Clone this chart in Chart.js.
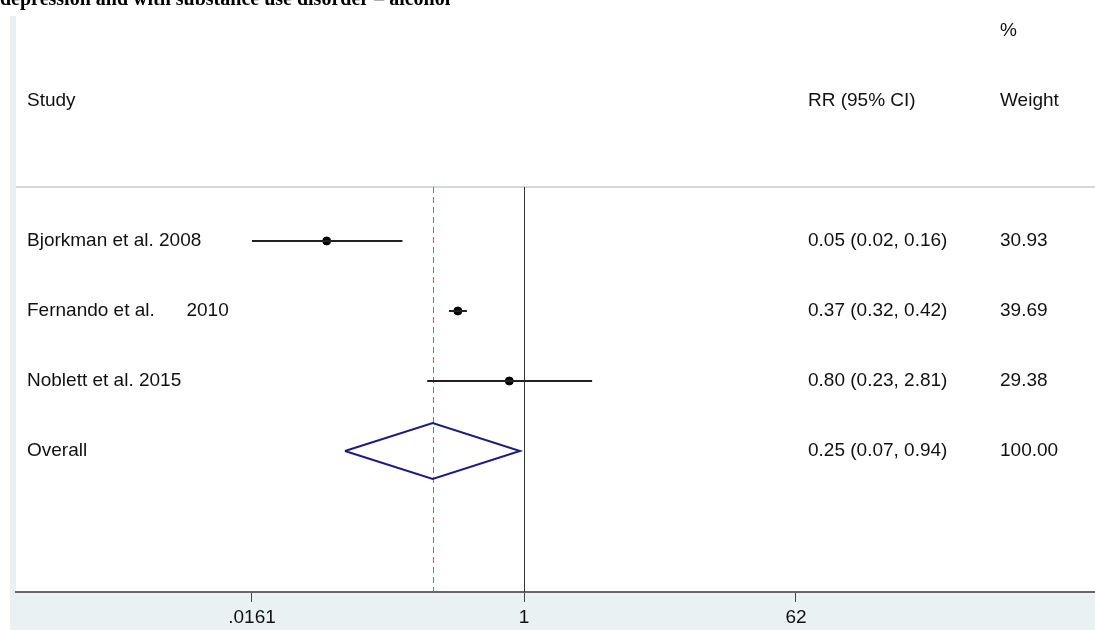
<!DOCTYPE html>
<html>
<head>
<meta charset="utf-8">
<script src="https://cdn.jsdelivr.net/npm/chart.js@4/dist/chart.umd.min.js"></script>
<style>
  html, body { margin: 0; padding: 0; background: #fff; }
  #forest { display: block; }
</style>
</head>
<body>
<canvas id="forest" width="1095" height="630"></canvas>
<script>
// studies, top to bottom
const studies = ['Bjorkman et al. 2008', 'Fernando et al.      2010', 'Noblett et al. 2015']
const rr = [0.05, 0.366, 0.80]
const lower = [0.0161, 0.32, 0.23]
const upper = [0.158, 0.42, 2.81]
const weights = ['30.93', '39.69', '29.38']

// pooled estimate
const overallLabel = 'Overall'
const overallRR = 0.25
const overallLower = 0.066
const overallUpper = 0.94
const overallWeight = '100.00'

// x axis
const tickValues = [0.0161, 1, 62]
const tickLabels = ['.0161', '1', '62']
const xMin = 0.000448
const xMax = 5800

const title = 'depression and with substance use disorder \u2013 alcohol'
const font = '"Liberation Sans", Arial, sans-serif'
const textSize = 19
const bandColor = '#e9f1f3'

const fmt = v => v.toFixed(2)
const ciText = (e, l, u) => fmt(e) + ' (' + fmt(l) + ', ' + fmt(u) + ')'

const datasets = []
studies.forEach((s, i) => {
  datasets.push({
    data: [{x: lower[i], y: i}, {x: upper[i], y: i}],
    showLine: true,
    borderColor: '#222',
    borderWidth: 2,
    pointRadius: 0
  })
})
datasets.push({
  data: rr.map((v, i) => ({x: v, y: i})),
  showLine: false,
  pointRadius: 4,
  pointBackgroundColor: '#000',
  pointBorderColor: '#000'
})
const oy = studies.length
datasets.push({
  data: [
    {x: overallLower, y: oy},
    {x: overallRR, y: oy - 0.4},
    {x: overallUpper, y: oy},
    {x: overallRR, y: oy + 0.4},
    {x: overallLower, y: oy}
  ],
  showLine: true,
  borderColor: '#1c1c80',
  borderWidth: 2,
  pointRadius: 0,
  fill: false
})

const decor = {
  id: 'decor',
  beforeDraw(chart) {
    const {ctx, chartArea: a, width, height} = chart
    ctx.save()
    ctx.fillStyle = '#fff'
    ctx.fillRect(0, 0, width, height)
    ctx.fillStyle = bandColor
    ctx.fillRect(10, 16, a.left - 10, a.bottom - 16)
    ctx.fillRect(10, a.bottom, width - 10, height - a.bottom)
    // title, cut off at the top edge
    ctx.fillStyle = '#000'
    ctx.font = 'bold 20px "Liberation Serif", "Times New Roman", serif'
    ctx.textBaseline = 'alphabetic'
    ctx.fillText(title, 0, 5)
    ctx.restore()
  },
  beforeDatasetsDraw(chart) {
    const {ctx, chartArea: a, scales: {x}} = chart
    ctx.save()
    // header rule
    ctx.strokeStyle = '#d8d8d8'
    ctx.lineWidth = 2
    ctx.beginPath()
    ctx.moveTo(a.left, a.top)
    ctx.lineTo(a.right, a.top)
    ctx.stroke()
    // line of no effect
    const x1 = Math.round(x.getPixelForValue(1)) + 0.5
    ctx.strokeStyle = '#333'
    ctx.lineWidth = 1
    ctx.beginPath()
    ctx.moveTo(x1, a.top)
    ctx.lineTo(x1, a.bottom)
    ctx.stroke()
    // pooled estimate
    const xo = Math.round(x.getPixelForValue(overallRR)) + 0.5
    ctx.strokeStyle = '#c25a6c'
    ctx.setLineDash([6, 4])
    ctx.beginPath()
    ctx.moveTo(xo, a.top)
    ctx.lineTo(xo, a.bottom)
    ctx.stroke()
    ctx.restore()
  },
  afterDraw(chart) {
    const {ctx, scales: {y}} = chart
    ctx.save()
    ctx.fillStyle = '#111'
    ctx.font = textSize + 'px ' + font
    ctx.textBaseline = 'middle'
    ctx.fillText('%', 1000, 31)
    ctx.fillText('Study', 27, 101)
    ctx.fillText('RR (95% CI)', 808, 101)
    ctx.fillText('Weight', 1000, 101)
    studies.forEach((s, i) => {
      const py = y.getPixelForValue(i)
      ctx.fillText(s, 27, py)
      ctx.fillText(ciText(rr[i], lower[i], upper[i]), 808, py)
      ctx.fillText(weights[i], 1000, py)
    })
    const py = y.getPixelForValue(oy)
    ctx.fillText(overallLabel, 27, py)
    ctx.fillText(ciText(overallRR, overallLower, overallUpper), 808, py)
    ctx.fillText(overallWeight, 1000, py)
    ctx.restore()
  }
}

new Chart(document.getElementById('forest'), {
  type: 'scatter',
  data: { datasets },
  options: {
    responsive: false,
    animation: false,
    layout: { autoPadding: false, padding: { left: 16, right: 0, top: 187, bottom: 0 } },
    plugins: { legend: { display: false }, tooltip: { enabled: false } },
    scales: {
      x: {
        type: 'logarithmic',
        min: xMin,
        max: xMax,
        afterBuildTicks: scale => { scale.ticks = tickValues.map(v => ({value: v})) },
        afterFit: scale => {
          scale.height = 38
          scale.paddingLeft = 0
          scale.paddingRight = 0
        },
        ticks: {
          callback: (v, i) => tickLabels[i],
          color: '#111',
          font: { family: font, size: textSize },
          padding: 4,
          maxRotation: 0,
          autoSkip: false
        },
        grid: { drawOnChartArea: false, drawTicks: true, tickLength: 10, color: '#444' },
        border: { display: true, color: '#666', width: 2 }
      },
      y: {
        type: 'linear',
        reverse: true,
        min: -0.771,
        max: 5.014,
        display: false
      }
    }
  },
  plugins: [decor]
})
</script>
</body>
</html>
